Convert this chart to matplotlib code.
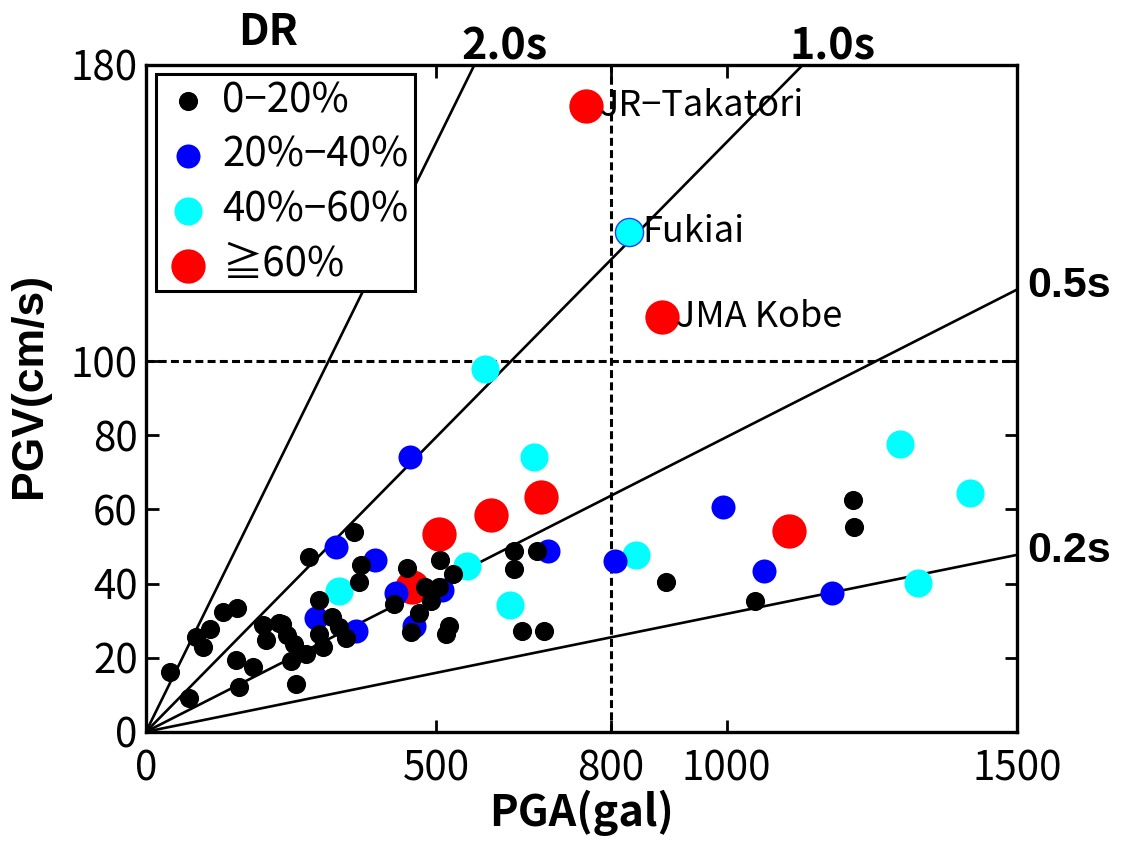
import numpy as np
import matplotlib
matplotlib.use("Agg")
from matplotlib import pyplot as plt

plt.rcParams['font.family'] = ['Noto Sans CJK JP', 'DejaVu Sans']

# PGA (gal) / PGV (cm/s) per damage-ratio class
dr_low_pga = [41, 74, 86, 98, 110, 133, 156, 155, 161, 185, 201, 207, 229, 243, 249,
              259, 255, 235, 276, 281, 358, 298, 321, 298, 304, 333, 344, 367, 370,
              427, 450, 457, 470, 481, 490, 504, 507, 529, 516, 521, 633, 633, 647,
              673, 685, 895, 1049, 1218, 1220]
dr_low_pgv = [16.2, 9.2, 25.6, 23.0, 27.8, 32.2, 33.4, 19.5, 12.2, 17.4, 28.8, 24.9, 29.3, 26.2, 19.2,
              13.0, 23.7, 29.1, 21.0, 47.1, 53.9, 35.6, 31.0, 26.4, 22.8, 28.2, 25.3, 40.4, 44.9,
              34.6, 44.2, 26.8, 32.0, 39.0, 35.4, 39.0, 46.5, 42.5, 26.4, 28.6, 48.9, 44.0, 27.1,
              48.7, 27.3, 40.4, 35.4, 62.6, 55.4]

dr_20_40_pga = [293, 327, 361, 395, 430, 455, 461, 510, 693, 807, 993, 1065, 1182]
dr_20_40_pgv = [30.8, 50.0, 27.3, 46.3, 37.5, 74.1, 28.6, 38.2, 48.9, 46.1, 60.6, 43.5, 37.4]

dr_40_60_pga = [333, 553, 584, 627, 669, 844, 1299, 1329, 1419]
dr_40_60_pgv = [38.1, 44.8, 98.0, 34.1, 74.1, 47.6, 77.7, 40.1, 64.4]

dr_high_pga = [458, 504, 594, 681, 1107]
dr_high_pgv = [39.0, 53.4, 58.4, 63.3, 54.1]

# named stations
stations = ['JR−Takatori', 'Fukiai', 'JMA Kobe']
station_pga = [757, 831, 888]
station_pgv = [168.9, 134.8, 112.0]
station_class = ['high', '40_60', 'high']

periods = [2.0, 1.0, 0.5, 0.2]
period_labels = ['2.0s', '1.0s', '0.5s', '0.2s']

legend_labels = ['0−20%', '20%−40%', '40%−60%', '≧60%']

xmax, ymax = 1500, 180

fig = plt.figure(figsize=(11.23, 8.44), dpi=100)
ax = fig.add_axes([0.130, 0.133, 0.7756, 0.790])

# PGV = PGA * T / (2 pi)
xs = np.array([0, xmax])
for T in periods:
    ax.plot(xs, xs * T / (2 * np.pi), color='k', lw=1.9, zorder=2)

ax.plot([800, 800], [0, ymax], color='k', lw=2.2, dashes=(2.6, 1.4), zorder=2)
ax.plot([0, xmax], [100, 100], color='k', lw=2.2, dashes=(2.6, 1.4), zorder=2)

s_low, s_b, s_c, s_r = 190, 300, 410, 610
h_r = ax.scatter(dr_high_pga, dr_high_pgv, s=s_r, c='#ff0000', lw=0, zorder=3)
h_c = ax.scatter(dr_40_60_pga, dr_40_60_pgv, s=s_c, c='#00ffff', lw=0, zorder=4)
h_b = ax.scatter(dr_20_40_pga, dr_20_40_pgv, s=s_b, c='#0000ff', lw=0, zorder=5)
h_k = ax.scatter(dr_low_pga, dr_low_pgv, s=s_low, c='k', lw=0, zorder=6)

for name, x, y, cls in zip(stations, station_pga, station_pgv, station_class):
    if cls == 'high':
        ax.scatter([x], [y], s=s_r, c='#ff0000', lw=0, zorder=3)
    else:
        ax.scatter([x], [y], s=s_c, c='#00ffff', edgecolors='#2040ff', lw=1.0, zorder=4)
    ax.annotate(name, (x, y), xytext=(10, 0), textcoords='offset points',
                fontsize=26, va='center', ha='left', zorder=7)

ax.set_xlim(0, xmax)
ax.set_ylim(0, ymax)
ax.set_xticks([0, 500, 800, 1000, 1500])
ax.set_yticks([0, 20, 40, 60, 80, 100, 180])
ax.tick_params(direction='in', length=9, width=2, top=True, right=True,
               labelsize=29, pad=6)
ax.tick_params(axis='x', pad=12)
for sp in ax.spines.values():
    sp.set_linewidth(2.4)

ax.set_xlabel('PGA(gal)', fontsize=31, fontweight='bold', labelpad=0)
ax.set_ylabel('PGV(cm/s)', fontsize=32, fontweight='bold',
              family=['Liberation Sans', 'DejaVu Sans'])
ax.yaxis.set_label_coords(-0.110, 0.52)

# period labels on the ratio lines
for T, lab in zip(periods, period_labels):
    y_end = xmax * T / (2 * np.pi)
    if y_end > ymax:
        x_top = ymax * 2 * np.pi / T
        ax.text(x_top - 22, ymax - 1, lab, fontsize=31, fontweight='bold',
                ha='left', va='bottom', clip_on=False)
    else:
        ax.text(xmax + 18, y_end + 1, lab, fontsize=31, fontweight='bold',
                family=['Liberation Sans', 'DejaVu Sans'],
                ha='left', va='center', clip_on=False)

ax.text(0.14, 1.05, 'DR', transform=ax.transAxes, fontsize=31,
        fontweight='bold', ha='center', va='center')

leg = ax.legend([h_k, h_b, h_c, h_r], legend_labels, loc='upper left',
                bbox_to_anchor=(0.0115, 0.9865), borderaxespad=0,
                fontsize=29, frameon=True, fancybox=False, framealpha=1,
                edgecolor='k', handletextpad=0.2, labelspacing=0.34,
                borderpad=0.15, handlelength=1.3)
leg.get_frame().set_linewidth(2.2)
leg.set_zorder(10)

fig.savefig('out.png', dpi=100)
